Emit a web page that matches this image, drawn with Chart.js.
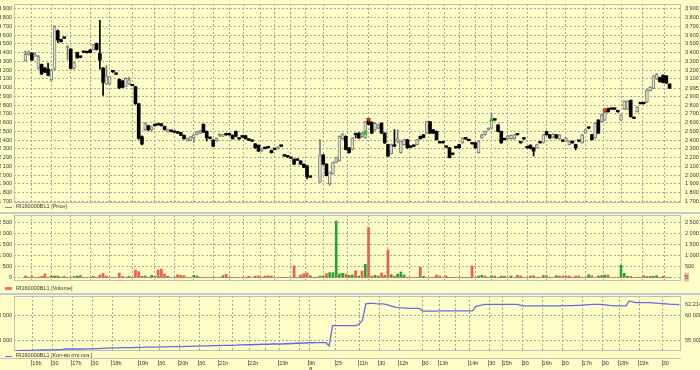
<!DOCTYPE html>
<html>
<head>
<meta charset="utf-8">
<script src="https://cdn.jsdelivr.net/npm/chart.js@4.4.1/dist/chart.umd.min.js"></script>
<style>
body { margin:0; background:#FFFFC8; width:700px; height:370px; overflow:hidden; position:relative; font-family:'Liberation Sans', Arial, sans-serif; }
canvas { position:absolute; }
.leg { position:absolute; left:16px; font-size:5.5px; color:#333; line-height:7px; white-space:nowrap; z-index:5; }
.ico { position:absolute; left:5px; width:7px; z-index:5; }
.sep { position:absolute; left:0; width:700px; height:2px; background:#C6C9D6; z-index:5; }
</style>
</head>
<body>
<canvas id="cPrice" width="716" height="212" style="left:-16px;top:0"></canvas>
<canvas id="cVol" width="716" height="76" style="left:-16px;top:209px"></canvas>
<canvas id="cOi" width="716" height="80" style="left:-16px;top:290px"></canvas>

<div class="ico" style="top:207px;height:1px;background:#8a8a8a"></div>
<div class="leg" style="top:203px">RI160000BL1 [Price]</div>
<div class="sep" style="top:212px"></div>

<div class="ico" style="top:287px;height:3px;background:#F07060"></div>
<div class="leg" style="top:285px">RI160000BL1 [Volume]</div>
<div class="sep" style="top:293px"></div>

<div class="ico" style="top:356px;height:1px;background:#6868E0"></div>
<div class="leg" style="top:352px">RI160000BL1 [Кол-во отк.поз.]</div>

<script>
// 5 min candles, 200 slots (89, 90 = night gap)
var openP = [
  3310,3380,3395,3360,3220,3265,3225,3210,3090,3210,
  3650,3550,3565,3455,3440,3220,3400,3347,3403,3400,
  3430,3435,3505,3390,3225,3040,3040,3180,3153,3095,
  3078,3015,3040,3022,3010,2815,2440,2520,2565,2520,
  2566,2573,2585,2555,2495,2500,2490,2490,2485,2455,
  2390,2395,2425,2465,2480,2580,2500,2420,2400,2390,
  2445,2445,2461,2460,2455,2500,2413,2440,2450,2400,
  2387,2357,2342,2274,2304,2312,2282,2293,2300,2330,
  2218,2207,2192,2181,2170,2162,2125,2106,1975,null,
  null,1920,2230,2125,1900,2013,2144,2162,2416,2443,
  2312,2293,2461,2480,2440,2424,2630,2603,2517,2536,
  2592,2480,2349,2245,2330,2387,2256,2349,2405,2319,
  2330,2349,2443,2461,2480,2611,2517,2499,2368,2368,
  2319,2312,2237,2312,2349,2368,2413,2394,2357,2368,
  2256,2424,2461,2517,2536,2629,2573,2499,2405,2413,
  2416,2416,2461,2368,2413,2312,2342,2312,2312,2368,
  2368,2499,2461,2431,2461,2416,2387,2387,2349,2387,
  2349,2387,2368,2480,2536,2461,2424,2629,2611,2629,
  2760,2753,2753,2723,2629,2753,2753,2854,2648,2723,
  2816,2816,2835,2966,2992,3096,3115,3141,3134,3040
];
var highP = [
  3420,3420,3400,3400,3370,3270,3230,3280,3210,3710,
  3660,3555,3570,3480,3445,3290,3405,3350,3410,3405,
  3435,3495,3510,3770,3230,3250,3130,3185,3160,3100,
  3080,3115,3120,3025,3015,2820,2450,2600,2570,2560,
  2570,2578,2590,2560,2525,2505,2495,2500,2490,2460,
  2425,2445,2465,2500,2515,2585,2505,2425,2405,2425,
  2475,2465,2465,2465,2460,2505,2418,2450,2455,2405,
  2390,2360,2345,2305,2308,2316,2285,2297,2326,2334,
  2222,2211,2196,2185,2174,2166,2130,2110,1980,null,
  null,2405,2235,2130,2035,2150,2205,2450,2475,2450,
  2318,2430,2480,2485,2490,2615,2640,2610,2600,2580,
  2598,2485,2355,2355,2520,2517,2392,2410,2410,2323,
  2334,2410,2448,2466,2616,2616,2522,2505,2372,2372,
  2323,2318,2241,2316,2354,2430,2417,2398,2361,2373,
  2392,2466,2504,2541,2704,2633,2578,2504,2409,2455,
  2459,2466,2465,2372,2417,2316,2347,2317,2354,2372,
  2466,2504,2466,2474,2466,2466,2391,2429,2392,2392,
  2354,2391,2466,2522,2540,2466,2597,2634,2704,2765,
  2765,2757,2757,2727,2691,2851,2851,2859,2652,2784,
  2820,2820,2978,3008,3139,3160,3120,3146,3139,3045
];
var lowP = [
  3300,3370,3310,3355,3210,3150,3170,3135,3070,3200,
  3515,3520,3560,3320,3215,3210,3335,3340,3400,3395,
  3400,3430,3430,3210,2910,3035,3035,3175,3150,2990,
  3000,3010,3035,3020,2810,2410,2345,2510,2505,2500,
  2560,2570,2560,2515,2490,2495,2485,2475,2450,2410,
  2385,2390,2370,2460,2475,2485,2390,2415,2325,2385,
  2440,2440,2455,2455,2410,2440,2408,2430,2410,2395,
  2385,2305,2270,2270,2300,2308,2250,2290,2296,2326,
  2214,2203,2188,2120,2166,2120,2085,1957,1970,null,
  null,1915,2120,1990,1882,2008,2140,2158,2410,2288,
  2250,2288,2424,2420,2435,2420,2575,2475,2512,2530,
  2475,2362,2212,2240,2326,2368,2250,2344,2306,2315,
  2326,2344,2410,2426,2475,2475,2475,2400,2364,2364,
  2315,2195,2233,2308,2306,2363,2409,2390,2353,2306,
  2250,2419,2456,2512,2531,2625,2494,2363,2401,2408,
  2411,2411,2457,2364,2409,2308,2299,2218,2307,2364,
  2363,2456,2419,2426,2419,2411,2383,2382,2344,2363,
  2290,2383,2363,2475,2532,2400,2419,2475,2606,2624,
  2718,2749,2749,2719,2624,2748,2748,2662,2644,2718,
  2812,2812,2830,2961,2987,3091,3062,3054,3047,2990
];
var closeP = [
  3380,3410,3315,3375,3355,3155,3180,3140,3200,3700,
  3545,3525,3565,3475,3220,3285,3340,3347,3403,3400,
  3400,3490,3435,3315,3060,3135,3125,3180,3153,2995,
  3003,3105,3090,3022,2815,2420,2355,2590,2520,2555,
  2566,2573,2565,2520,2520,2500,2490,2480,2455,2415,
  2420,2440,2460,2495,2510,2490,2425,2420,2330,2420,
  2470,2460,2461,2460,2415,2445,2413,2435,2416,2400,
  2387,2312,2274,2300,2304,2312,2256,2293,2323,2330,
  2218,2207,2192,2125,2170,2125,2088,1983,1975,null,
  null,2230,2125,1994,2030,2144,2200,2443,2469,2293,
  2256,2424,2461,2424,2470,2611,2581,2480,2592,2573,
  2480,2368,2218,2349,2330,2424,2387,2405,2312,2319,
  2330,2405,2416,2431,2611,2480,2480,2405,2368,2368,
  2319,2200,2237,2312,2312,2424,2413,2394,2357,2312,
  2387,2461,2499,2536,2629,2629,2499,2368,2405,2450,
  2454,2461,2461,2368,2413,2312,2304,2274,2349,2368,
  2461,2461,2424,2469,2424,2461,2387,2424,2387,2368,
  2312,2387,2461,2517,2536,2405,2592,2480,2686,2760,
  2723,2753,2753,2723,2686,2846,2846,2667,2648,2779,
  2816,2816,2973,3003,3134,3152,3067,3059,3052,2995
];

var volRed = [
  60,0,60,0,0,40,150,0,0,0,   0,0,45,0,0,45,0,0,0,0,
  0,0,0,107,183,60,0,0,0,200, 45,0,0,0,336,260,0,0,0,0,
  45,336,380,150,0,0,0,122,90,76, 0,0,0,0,0,0,0,0,0,0,
  0,0,137,0,0,0,0,0,0,45,     0,60,60,0,60,76,60,0,0,0,
  0,0,0,519,0,107,168,198,0,0, 0,0,0,168,0,0,0,0,0,150,
  0,0,305,0,290,0,2290,60,0,0, 198,90,1250,0,60,0,0,0,0,0,
  0,0,458,0,0,0,0,107,60,0,   60,0,0,0,0,0,0,0,519,0,
  0,0,60,0,0,60,0,0,60,0,     0,0,90,60,0,0,60,76,0,0,
  0,76,0,0,0,60,60,60,60,0,   60,60,0,0,0,76,0,0,0,0,
  107,0,0,0,0,0,0,45,0,0,     0,76,45,0,0,0,0,45,0,5
];
var volGreen = [
  0,0,0,0,0,0,0,0,60,60,      60,0,0,0,0,0,60,76,0,0,
  0,45,0,0,0,0,0,0,0,0,       0,0,45,0,0,0,45,60,0,90,
  0,0,0,0,45,0,0,0,0,0,       0,0,90,60,0,0,0,0,0,0,
  0,76,0,0,0,0,0,0,0,0,       0,0,0,0,0,0,0,0,0,0,
  0,0,0,0,0,0,0,0,76,0,       0,60,60,0,214,214,2580,150,183,0,
  90,107,0,60,0,595,0,0,90,60, 0,0,0,122,0,150,244,107,0,0,
  0,0,0,45,0,0,0,0,0,0,       0,0,0,0,0,0,0,0,0,0,
  60,90,0,0,60,0,0,60,0,0,    60,0,0,0,0,0,0,0,0,0,
  76,0,0,0,76,0,0,0,0,0,      0,0,0,0,122,0,0,60,76,107,
  0,0,0,0,550,183,45,0,0,0,   0,0,0,45,45,76,0,0,0,0
];

var openInt = [
  52900,52900,52950,52950,52950,52950,53000,53000,53030,53030,
  53050,53050,53100,53100,53150,53230,53230,53230,53230,53230,
  53230,53250,53250,53300,53300,53300,53350,53400,53400,53450,
  53450,53450,53500,53500,53500,53500,53550,53550,53550,53600,
  53600,53600,53600,53650,53650,53650,53700,53700,53700,53700,
  53700,53750,53750,53800,53800,53800,53850,53850,53850,53900,
  53900,53900,53950,53950,53980,53980,54000,54050,54050,54100,
  54100,54100,54150,54150,54200,54200,54200,54250,54250,54250,
  54250,54300,54300,54350,54400,54400,54450,54450,54500,54500,
  54510,54510,54510,54510,53840,57970,57970,58000,58000,58000,
  58000,58000,58000,58300,59100,62400,62520,62500,62450,62420,
  62400,62300,62100,61900,61700,61630,61600,61550,61500,61500,
  61500,61500,60950,60950,60950,60950,60950,60980,60980,60980,
  60980,61000,61000,61000,61000,61000,61000,61000,61900,62030,
  62200,62300,62320,62320,62320,62320,62320,62320,62320,62320,
  62320,62200,61990,61990,61990,61990,61990,61990,61990,62000,
  62000,62000,62000,62000,62030,62030,62050,62050,62100,62100,
  62150,62200,62250,62300,62300,62300,62250,62200,62100,62050,
  62000,62000,62000,62000,63000,62800,62660,62660,62660,62660,
  62660,62600,62550,62500,62450,62400,62350,62320,62300,62214
];

var buyIdx = [105, 144], buyPrice = [2480, 2629];
var sellIdx = [106, 179], sellPrice = [2636, 2735];

var tickIdx  = [5,11,17,23,29,37,43,49,55,61,65,70,75,79,85,88,96,103,109,115,122,127,132,136,142,146,152,158,164,170,176,181,187,194];
var tickText = ['16h','30','17h','30','18h','19h','30','20h','30','21h','','22h','','23h','','9h\n8','25','11h','30','12h','30','13h','','14h','30','15h','30','16h','30','17h','30','18h','19h','30'];

var priceTicks = [1700,1800,1900,2000,2100,2200,2300,2400,2500,2600,2700,2800,2900,3000,3100,3200,3300,3400,3500,3600,3700,3800,3900];
var volTicks = [0,500,1000,1500,2000,2500];
var oiTicks = [55000,60000];
var lastPrice = 2995, lastVol = 5, lastOi = 62214;

Chart.defaults.font.family = "'Liberation Sans', Arial, sans-serif";
Chart.defaults.font.size = 5.5;
Chart.defaults.color = '#333';

var N = openP.length;
var GRID = '#A6A6A0';

function fmt(v) { return String(v).replace(/\B(?=(\d{3})+(?!\d))/g, ' '); }

function fixW(w) {
  return function(s) { s.width = w; s.paddingTop = 0; s.paddingBottom = 0; };
}

function xScale(showLabels) {
  return {
    type: 'linear', min: -0.5, max: N - 0.5,
    afterBuildTicks: function(s) { s.ticks = tickIdx.map(function(v){ return {value: v}; }); },
    afterFit: function(s) { s.height = showLabels ? 19 : 0; s.paddingLeft = 0; s.paddingRight = 0; },
    grid: { color: GRID, drawTicks: false },
    border: { display: false, dash: [2, 2] },
    ticks: {
      display: showLabels, align: 'start', padding: 9, autoSkip: false, maxRotation: 0,
      callback: function(v) { var t = tickText[tickIdx.indexOf(v)] || ''; return t.indexOf('\n') >= 0 ? t.split('\n') : t; }
    }
  };
}

function leftAxis(min, max, list) {
  return {
    position: 'left', min: min, max: max,
    afterBuildTicks: function(s) { s.ticks = list.map(function(v){ return {value: v}; }); },
    afterFit: fixW(30),
    grid: { display: false, drawTicks: false },
    border: { display: false },
    ticks: { padding: 2, autoSkip: false, callback: fmt }
  };
}

function rightAxis(min, max, list, gridFilter, extra) {
  var ticks = { padding: 4, autoSkip: false, callback: fmt };
  if (extra) { for (var k in extra) ticks[k] = extra[k]; }
  return {
    position: 'right', min: min, max: max,
    afterBuildTicks: function(s) { s.ticks = list.map(function(v){ return {value: v}; }); },
    afterFit: fixW(19),
    grid: { drawTicks: false, color: function(c) { return gridFilter(c.tick.value) ? GRID : 'rgba(0,0,0,0)'; } },
    border: { display: false, dash: [2, 2] },
    ticks: ticks
  };
}

var framePlugin = {
  id: 'frame',
  beforeDatasetsDraw: function(chart) {
    var a = chart.chartArea, ctx = chart.ctx;
    ctx.save();
    ctx.strokeStyle = '#BEBEB6';
    ctx.lineWidth = 1;
    ctx.strokeRect(Math.round(a.left) + 0.5, Math.round(a.top) + 0.5, Math.round(a.right - a.left) - 1, Math.round(a.bottom - a.top) - 1);
    ctx.restore();
  }
};

function up(i) { return closeP[i] > openP[i]; }

var slots = [];
for (var i = 0; i < N; i++) if (openP[i] !== null) slots.push(i);

// price panel
new Chart(document.getElementById('cPrice'), {
  type: 'bar',
  data: {
    datasets: [
      {
        data: slots.map(function(i){ return {x: i, y: [lowP[i], highP[i]]}; }),
        barThickness: 1, grouped: false, order: 3,
        backgroundColor: function(c) { return up(c.raw.x) ? '#7C7C7C' : '#000'; }
      },
      {
        data: slots.map(function(i){ return {x: i, y: [openP[i], closeP[i]]}; }),
        barThickness: 3, grouped: false, order: 2, minBarLength: 1.5,
        borderSkipped: false,
        borderWidth: function(c) { return up(c.raw.x) ? 1 : 0; },
        borderColor: '#7C7C7C',
        backgroundColor: function(c) { return up(c.raw.x) ? '#E4E2C8' : '#000'; }
      },
      {
        type: 'line', showLine: false, order: 1,
        data: buyIdx.map(function(v, k){ return {x: v, y: buyPrice[k]}; }),
        pointStyle: 'triangle', pointRadius: 3, pointBackgroundColor: '#18C818', pointBorderColor: '#18C818', pointBorderWidth: 0
      },
      {
        type: 'line', showLine: false, order: 1,
        data: sellIdx.map(function(v, k){ return {x: v, y: sellPrice[k]}; }),
        pointStyle: 'triangle', pointRotation: 180, pointRadius: 3, pointBackgroundColor: '#E82020', pointBorderColor: '#E82020', pointBorderWidth: 0
      }
    ]
  },
  options: {
    responsive: false, animation: false, events: [],
    layout: { padding: { top: 0, bottom: 9, left: 0, right: 0 } },
    plugins: { legend: { display: false }, tooltip: { enabled: false } },
    scales: {
      x: xScale(false),
      yL: leftAxis(1681, 3956, priceTicks),
      y: rightAxis(1681, 3956, priceTicks.map(function(v){ return v === 3000 ? lastPrice : v; }), function(){ return true; })
    }
  },
  plugins: [framePlugin]
});

// volume panel
new Chart(document.getElementById('cVol'), {
  type: 'bar',
  data: {
    datasets: [
      { data: volRed.map(function(v, i){ return {x: i, y: v}; }), barThickness: 2, grouped: false, backgroundColor: '#F25A4E' },
      { data: volGreen.map(function(v, i){ return {x: i, y: v}; }), barThickness: 2, grouped: false, backgroundColor: '#22A532' }
    ]
  },
  options: {
    responsive: false, animation: false, events: [],
    layout: { padding: { top: 6, bottom: 4, left: 0, right: 0 } },
    plugins: { legend: { display: false }, tooltip: { enabled: false } },
    scales: {
      x: xScale(false),
      yL: leftAxis(-169, 2853, volTicks),
      y: rightAxis(-169, 2853, [lastVol].concat(volTicks.slice(1)), function(){ return true; }, {
        showLabelBackdrop: function(c) { return c.tick && c.tick.value === lastVol; },
        backdropColor: '#F6B2A4', backdropPadding: 1
      })
    }
  },
  plugins: [framePlugin]
});

// open interest panel + time axis
var axisMarks = {
  id: 'axisMarks',
  afterDraw: function(chart) {
    var ctx = chart.ctx, a = chart.chartArea, xs = chart.scales.x;
    ctx.save();
    ctx.strokeStyle = '#C4C4B4';
    ctx.lineWidth = 1;
    ctx.beginPath();
    ctx.moveTo(0, 68.5); ctx.lineTo(a.right, 68.5);
    ctx.stroke();
    ctx.strokeStyle = '#8C8C8C';
    ctx.beginPath();
    tickIdx.forEach(function(v, k) {
      if (!tickText[k]) return;
      var px = Math.round(xs.getPixelForValue(v)) - 0.5;
      ctx.moveTo(px, 70); ctx.lineTo(px, 76);
    });
    ctx.stroke();
    ctx.restore();
  }
};

new Chart(document.getElementById('cOi'), {
  type: 'line',
  data: {
    datasets: [{
      data: openInt.map(function(v, i){ return {x: i, y: v}; }),
      borderColor: '#6868E0', borderWidth: 1.3, pointRadius: 0, tension: 0
    }]
  },
  options: {
    responsive: false, animation: false, events: [],
    layout: { padding: { top: 6, bottom: 0, left: 0, right: 0 } },
    plugins: { legend: { display: false }, tooltip: { enabled: false } },
    scales: {
      x: xScale(true),
      yL: leftAxis(52825, 64004, oiTicks),
      y: rightAxis(52825, 64004, oiTicks.concat([lastOi]), function(v){ return v !== lastOi; })
    }
  },
  plugins: [framePlugin, axisMarks]
});
</script>
</body>
</html>
